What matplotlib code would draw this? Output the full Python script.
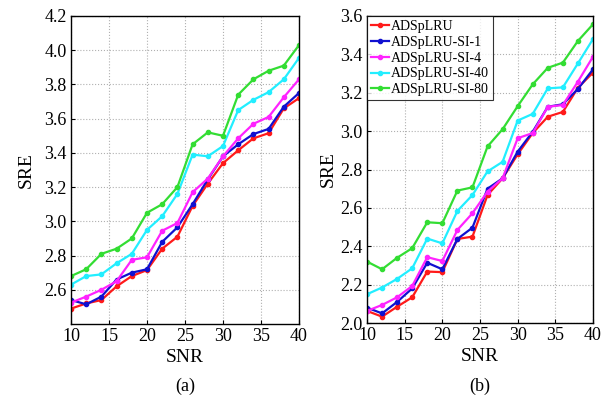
import numpy as np
import matplotlib
matplotlib.use('Agg')
import matplotlib.pyplot as plt

plt.rcParams['font.family'] = ['Liberation Serif', 'DejaVu Serif']
plt.rcParams['mathtext.fontset'] = 'stix'

snr = list(range(10, 41, 2))
labels = ['ADSpLRU', 'ADSpLRU-SI-1', 'ADSpLRU-SI-4', 'ADSpLRU-SI-40', 'ADSpLRU-SI-80']
colors = ['#ff1a1a', '#1010d0', '#ff22ff', '#22eeff', '#33dd33']

# panel (a)
sre_a_red = [2.49, 2.52, 2.54, 2.62, 2.68, 2.715, 2.84, 2.91, 3.09, 3.22, 3.34, 3.415, 3.485, 3.515, 3.66, 3.72]
sre_a_blue = [2.54, 2.515, 2.56, 2.66, 2.70, 2.72, 2.88, 2.965, 3.10, 3.245, 3.38, 3.45, 3.51, 3.54, 3.67, 3.75]
sre_a_mag = [2.525, 2.56, 2.60, 2.65, 2.775, 2.79, 2.945, 2.99, 3.17, 3.25, 3.38, 3.485, 3.57, 3.61, 3.725, 3.83]
sre_a_cyan = [2.63, 2.68, 2.69, 2.755, 2.81, 2.95, 3.03, 3.16, 3.39, 3.38, 3.44, 3.65, 3.71, 3.755, 3.83, 3.955]
sre_a_green = [2.68, 2.72, 2.81, 2.84, 2.90, 3.05, 3.10, 3.20, 3.45, 3.52, 3.50, 3.74, 3.83, 3.88, 3.91, 4.03]

# panel (b)
sre_b_red = [2.063, 2.033, 2.085, 2.134, 2.268, 2.265, 2.438, 2.45, 2.667, 2.754, 2.879, 2.99, 3.075, 3.10, 3.226, 3.305]
sre_b_blue = [2.08, 2.05, 2.11, 2.18, 2.314, 2.28, 2.438, 2.497, 2.70, 2.754, 2.893, 2.997, 3.127, 3.14, 3.22, 3.322]
sre_b_mag = [2.063, 2.094, 2.134, 2.193, 2.343, 2.323, 2.485, 2.572, 2.685, 2.754, 2.963, 2.99, 3.127, 3.136, 3.258, 3.388]
sre_b_cyan = [2.15, 2.185, 2.23, 2.285, 2.44, 2.415, 2.584, 2.667, 2.79, 2.84, 3.055, 3.09, 3.223, 3.228, 3.353, 3.48]
sre_b_green = [2.32, 2.28, 2.34, 2.39, 2.525, 2.52, 2.69, 2.707, 2.92, 3.01, 3.13, 3.244, 3.33, 3.357, 3.47, 3.557]

series_a = [sre_a_red, sre_a_blue, sre_a_mag, sre_a_cyan, sre_a_green]
series_b = [sre_b_red, sre_b_blue, sre_b_mag, sre_b_cyan, sre_b_green]

fig = plt.figure(figsize=(6.16, 3.96), dpi=100)
ax1 = fig.add_axes([71/616, 1-324/396, 228/616, 308/396])
ax2 = fig.add_axes([367/616, 1-323/396, 226/616, 307/396])


def style_axes(ax, ylim, yticks):
    ax.set_xlim(10, 40)
    ax.set_ylim(*ylim)
    ax.set_xticks(range(10, 41, 5))
    ax.set_yticks(yticks)
    ax.set_yticklabels([f'{t:.1f}' for t in yticks])
    ax.grid(True, linestyle=':', color='#b0b0b0', linewidth=0.8)
    ax.tick_params(direction='in', length=3, labelsize=13, pad=3)
    ax.set_xlabel('SNR', fontsize=14, labelpad=3)
    ax.set_ylabel('SRE', fontsize=14, labelpad=7)
    for s in ax.spines.values():
        s.set_linewidth(1.0)


for ax, series in [(ax1, series_a), (ax2, series_b)]:
    for vals, c, lab in zip(series, colors, labels):
        ax.plot(snr, vals, color=c, lw=1.6, marker='o', ms=3, label=lab)

style_axes(ax1, (2.4, 4.2), np.arange(2.6, 4.21, 0.2))
style_axes(ax2, (2.0, 3.6), np.arange(2.0, 3.61, 0.2))
ax2.set_ylabel('SRE', fontsize=14, labelpad=3)

leg = ax2.legend(loc='upper left', fontsize=10, frameon=True, fancybox=False,
                 handlelength=1.3, handletextpad=0.15, borderaxespad=0.0,
                 labelspacing=0.2, borderpad=0.3)
leg.get_frame().set_edgecolor('black')
leg.get_frame().set_linewidth(0.8)

fig.text(185/616, 1-386/396, '(a)', ha='center', va='center', fontsize=13)
fig.text(480/616, 1-386/396, '(b)', ha='center', va='center', fontsize=13)

fig.savefig('out.png', dpi=100)
